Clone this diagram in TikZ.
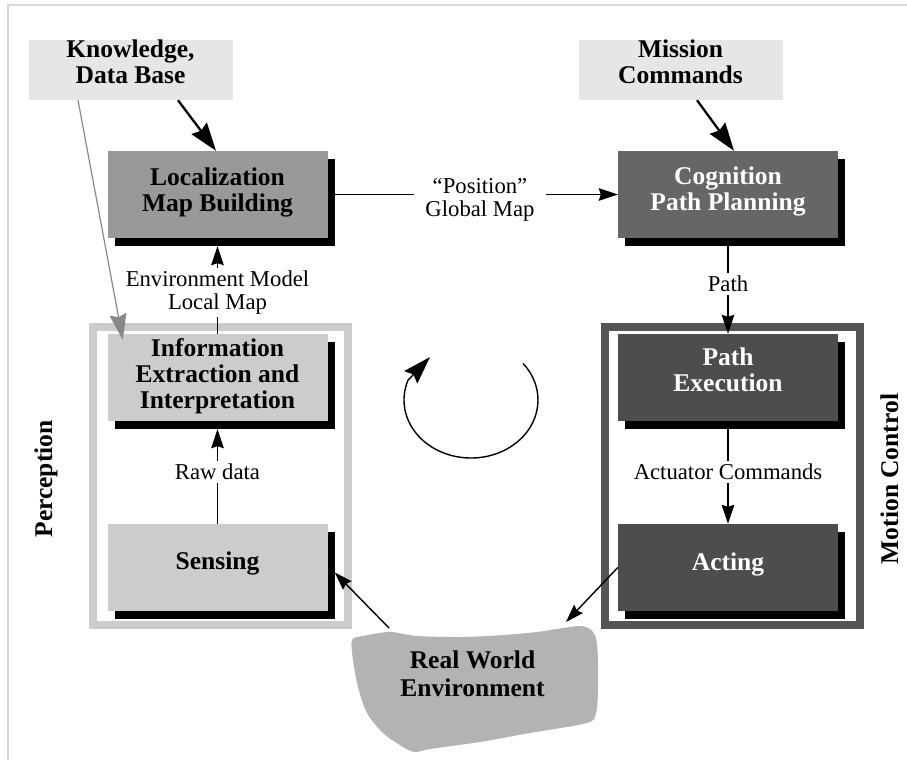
\documentclass[tikz,border=0pt]{standalone}
\usepackage{fontspec}
\setmainfont{Liberation Serif}
\usetikzlibrary{arrows.meta,shadows}
\definecolor{kbox}{HTML}{E6E6E6}
\definecolor{locc}{HTML}{999999}
\definecolor{cogc}{HTML}{666666}
\definecolor{pexc}{HTML}{4D4D4D}
\definecolor{infoc}{HTML}{CCCCCC}
\definecolor{percc}{HTML}{CCCCCC}
\definecolor{motc}{HTML}{555555}
\definecolor{rwc}{HTML}{B3B3B3}
\definecolor{bordc}{HTML}{D9D9D9}
\definecolor{arrgray}{HTML}{888888}
\begin{document}
\begin{tikzpicture}[x=1pt,y=1pt,
  box/.style={rectangle, inner sep=0pt, minimum width=220pt, minimum height=87pt,
    drop shadow={shadow xshift=7pt, shadow yshift=-8pt, fill=black, opacity=1}},
  srcbox/.style={rectangle, inner sep=0pt, minimum width=204pt, minimum height=60pt, fill=kbox},
  bt/.style={align=center, font=\fontsize{25.5}{26}\selectfont\bfseries, inner sep=0pt},
  lab/.style={align=center, font=\fontsize{22.7}{23}\selectfont, inner xsep=11pt, inner ysep=3pt},
  frame/.style={rectangle, line width=8pt, minimum width=255pt, minimum height=298pt, inner sep=0pt},
  plainline/.style={line width=1.3pt},
  conn/.style={line width=1.3pt, -{Stealth[length=19pt,width=12.5pt,inset=2pt]}},
  diag/.style={line width=1.4pt, -{Stealth[length=18pt,width=12pt,inset=2pt]}},
  big/.style={line width=2.3pt, -{Stealth[length=28pt,width=19pt,inset=3pt]}},
  grayarrow/.style={line width=1.2pt, draw=arrgray, -{Stealth[length=26pt,width=17pt,inset=3pt]}}
]
\useasboundingbox (0,0) rectangle (907,-760);
% page border
\draw[bordc, line width=1.5pt] (8,-760) -- (8,-5) -- (907,-5);

% group frames
\node[frame, draw=percc] (perc) at (220,-476) {};
\node[frame, draw=motc] (mot) at (732,-476) {};

% source boxes
\node[srcbox] (know) at (130.5,-70) {};
\node[bt] (knowt) at (130.5,-61.5) {Knowledge,\\Data Base};
\node[srcbox] (mis) at (680.5,-70) {};
\node[bt] (mist) at (680.5,-61.5) {Mission\\Commands};

% main boxes
\node[box, fill=locc] (loc) at (217.5,-194.5) {};
\node[bt] (loct) at (217.5,-192) {Localization\\Map Building};
\node[box, fill=cogc] (cog) at (728,-194.5) {};
\node[bt, text=white] (cogt) at (728,-191) {Cognition\\Path Planning};
\node[box, fill=infoc] (info) at (217.5,-377.5) {};
\node[bt] (infot) at (217.5,-376) {Information\\Extraction and\\Interpretation};
\node[box, fill=infoc] (sens) at (217.5,-567.5) {};
\node[bt] (senst) at (217.5,-563) {Sensing};
\node[box, fill=pexc] (pexe) at (728,-377.5) {};
\node[bt, text=white] (pexet) at (728,-370) {Path\\Execution};
\node[box, fill=pexc] (act) at (728,-567.5) {};
\node[bt, text=white] (actt) at (728,-564) {Acting};

% real world blob
\fill[rwc] plot[smooth cycle, tension=0.5] coordinates {
  (352,-640) (363,-636) (390,-632) (417,-636) (463,-637) (503,-635) (537,-632)
  (563,-628) (580,-626) (590,-629) (596,-638) (598,-660) (598,-690) (596,-713) (587,-723)
  (530,-733) (480,-742) (430,-749) (415,-752) (403,-747) (383,-733) (367,-713)
  (358,-687) (353,-660)};
\node[bt, font=\fontsize{25.5}{28.5}\selectfont\bfseries] (rw) at (472.5,-674) {Real World\\Environment};
\coordinate (rwa) at (389,-628);
\coordinate (rwb) at (566,-622);

% side labels
\node[bt, rotate=90] (percl) at (46,-479) {Perception};
\node[bt, rotate=90] (motl) at (889.5,-479) {Motion Control};

% connector labels
\node[lab] (posl) at (480,-199.5) {``Position''\\Global Map};
\node[lab] (envl) at (217.5,-292.5) {Environment Model\\Local Map};
\node[lab] (pathl) at (728,-284) {Path};
\node[lab] (rawl) at (217.5,-472) {Raw data};
\node[lab] (actl) at (728,-472) {Actuator Commands};

% connectors
\draw[big] ([xshift=47.5pt]know.south) -- ([xshift=-1.5pt]loc.north);
\draw[big] ([xshift=16.5pt]mis.south) -- ([xshift=6pt]cog.north);
\draw[grayarrow] ([xshift=-52.5pt]know.south) -- ([xshift=15.5pt,yshift=-6pt]info.north west);

\draw[plainline] ([xshift=7pt]loc.east) -- (loc.east -| posl.west);
\draw[conn] (cog.west -| posl.east) -- (cog.west);

\draw[plainline] ([yshift=-8pt]cog.south) -- (pathl.north);
\draw[conn] (pathl.south) -- (pexe.north);

\draw[plainline] (info.north) -- (envl.south);
\draw[conn] (envl.north) -- ([yshift=-8pt]loc.south);

\draw[plainline] (sens.north) -- (rawl.south);
\draw[conn] (rawl.north) -- ([yshift=-8pt]info.south);

\draw[plainline] ([yshift=-8pt]pexe.south) -- (actl.north);
\draw[conn] (actl.south) -- (act.north);

\draw[diag] (rwa) -- ([xshift=7pt,yshift=-5pt]sens.east);
\draw[diag] (act.west) -- (rwb);

% cycle arrow
\coordinate (cyc) at (523.07,-363.5);
\coordinate (cycend) at (430,-357);
\draw[line width=1.4pt, -{Stealth[length=28pt,width=18pt,inset=4pt]}]
  (cyc) arc[start angle=39, end angle=-200, x radius=67, y radius=58] -- (cycend);
\end{tikzpicture}
\end{document}
